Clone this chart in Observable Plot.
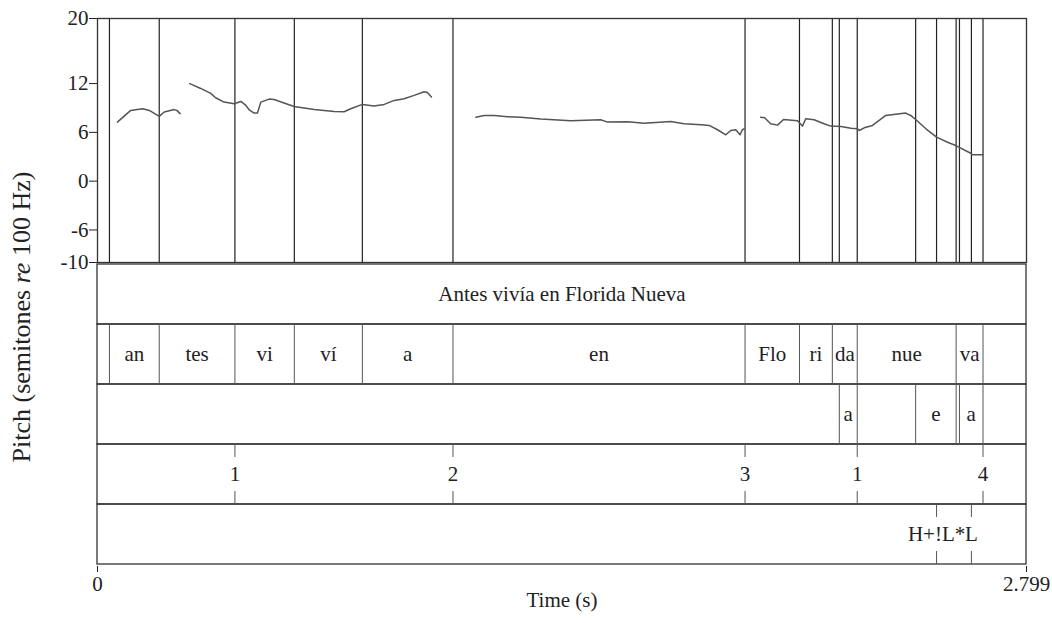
<!DOCTYPE html>
<html>
<head>
<meta charset="utf-8">
<script src="https://cdn.jsdelivr.net/npm/d3@7"></script>
<script src="https://cdn.jsdelivr.net/npm/@observablehq/plot@0.6"></script>
<style>
  body { margin: 0; background: #fff; }
  #wrap { position: relative; width: 1052px; height: 623px; font-family: "Liberation Serif", "Times New Roman", serif; }
  #wrap svg { display: block; }
  #ylab { position: absolute; left: 22px; top: 317px; transform: translate(-50%, -50%) rotate(-90deg); white-space: nowrap; font-size: 26px; color: #222; }
</style>
</head>
<body>
<div id="wrap"><div id="ylab">Pitch (semitones <i>re</i> 100 Hz)</div></div>
<script>
// ---- data ----
const timeMax = 2.799;
const pitchTicks = [20, 12, 6, 0, -6, -10];

// pitch contour (semitones re 100 Hz), four voiced stretches
const pitchSeg = [1,1,1,1,1,1,1,1,1,
  2,2,2,2,2,2,2,2,2,2,2,2,2,2,2,2,2,2,2,2,2,2,2,2,2,2,2,2,
  3,3,3,3,3,3,3,3,3,3,3,3,3,3,3,3,3,3,3,3,3,3,
  4,4,4,4,4,4,4,4,4,4,4,4,4,4,4,4,4,4,4,4,4,4,4,4,4,4,4,4];
const pitchTime = [0.060,0.100,0.136,0.156,0.186,0.201,0.231,0.239,0.249,
  0.278,0.311,0.341,0.356,0.381,0.412,0.432,0.447,0.457,0.472,0.482,0.492,0.517,0.532,0.592,0.653,0.713,0.743,0.763,0.798,0.833,0.864,0.894,0.924,0.954,0.984,0.994,1.006,
  1.140,1.165,1.195,1.235,1.275,1.336,1.426,1.516,1.537,1.597,1.647,1.727,1.767,1.818,1.843,1.868,1.893,1.908,1.923,1.936,1.943,1.948,
  1.998,2.010,2.028,2.049,2.067,2.109,2.124,2.134,2.159,2.189,2.209,2.240,2.270,2.290,2.295,2.310,2.335,2.375,2.435,2.450,2.466,2.496,2.528,2.561,2.586,2.631,2.636,2.667];
const pitchValue = [7.26,8.70,8.90,8.70,7.96,8.50,8.80,8.70,8.30,
  12.0,11.4,10.8,10.26,9.72,9.52,9.80,9.31,8.78,8.37,8.37,9.72,10.09,10.05,9.19,8.82,8.57,8.53,8.90,9.44,9.23,9.44,9.93,10.14,10.55,11.0,10.9,10.34,
  7.87,8.08,8.08,7.92,7.87,7.63,7.43,7.55,7.26,7.30,7.13,7.34,7.06,6.94,6.85,6.32,5.70,6.23,6.32,5.70,6.32,6.44,
  7.87,7.80,7.06,6.89,7.59,7.43,6.77,7.67,7.55,7.06,6.77,6.73,6.52,6.44,6.23,6.56,6.85,8.08,8.37,8.08,7.55,6.44,5.41,4.79,4.38,3.43,3.24,3.24];

// tiers
const tierNames = ["words", "syllables", "vowels", "breaks", "tones"];
const wordLabels = ["Antes vivía en Florida Nueva"];
const wordBounds = [0, 2.799];
const syllableLabels = ["", "an", "tes", "vi", "ví", "a", "en", "Flo", "ri", "da", "nue", "va", ""];
const syllableBounds = [0, 0.036, 0.186, 0.414, 0.593, 0.798, 1.071, 1.951, 2.115, 2.214, 2.289, 2.587, 2.668, 2.799];
const vowelLabels = ["", "a", "", "e", "", "a", ""];
const vowelBounds = [0, 2.235, 2.289, 2.465, 2.587, 2.597, 2.668, 2.799];
const breakTimes = [0.414, 1.071, 1.951, 2.289, 2.668];
const breakLabels = ["1", "2", "3", "1", "4"];
const toneTimes = [2.528, 2.633];
const toneLabels = ["H+!L*", "L"];

// ---- build tables ----
const pitch = pitchTime.map((t, i) => ({t, v: pitchValue[i], seg: pitchSeg[i]}));
function intervals(tier, labels, bounds) {
  return labels.map((label, i) => ({tier, label, start: bounds[i], end: bounds[i + 1]}));
}
const allIntervals = [
  ...intervals("words", wordLabels, wordBounds),
  ...intervals("syllables", syllableLabels, syllableBounds),
  ...intervals("vowels", vowelLabels, vowelBounds)
];
const boundaries = allIntervals.filter(d => d.start > 0).map(d => ({tier: d.tier, t: d.start}));
const points = [
  ...breakTimes.map((t, i) => ({tier: "breaks", t, label: breakLabels[i]})),
  ...toneTimes.map((t, i) => ({tier: "tones", t, label: toneLabels[i]}))
];
const lineTimes = Array.from(new Set([...boundaries.map(d => d.t), ...points.map(d => d.t)])).sort((a, b) => a - b);

const font = {fontFamily: "'Liberation Serif', 'Times New Roman', serif", fontSize: "21px", color: "#222", background: "transparent", overflow: "visible"};
const mL = 97, mR = 26;

const pitchPlot = Plot.plot({
  width: 1052, height: 262, marginTop: 18, marginBottom: 0, marginLeft: mL, marginRight: mR,
  style: font,
  x: {domain: [0, timeMax], axis: null},
  y: {domain: [-10, 20], ticks: pitchTicks, tickFormat: d => String(d), tickSize: 8, tickPadding: 1, label: null},
  marks: [
    Plot.ruleX(lineTimes, {stroke: "#222", strokeWidth: 1.2}),
    Plot.line(pitch, {x: "t", y: "v", z: "seg", stroke: "#555", strokeWidth: 1.5, curve: "linear"}),
    Plot.frame({stroke: "#333", strokeWidth: 1.3})
  ]
});

const tierPlot = Plot.plot({
  width: 1052, height: 361, marginTop: 0, marginBottom: 57, marginLeft: mL, marginRight: mR,
  style: font,
  x: {domain: [0, timeMax], ticks: [0, timeMax], tickFormat: d => d === 0 ? "0" : d3.format(".3f")(d), tickSize: 6, tickPadding: 4, label: null},
  y: {domain: tierNames, axis: null, padding: 0},
  marks: [
    Plot.barX(tierNames, {x1: 0, x2: timeMax, y: d => d, fill: "none", stroke: "#333", strokeWidth: 1.3}),
    Plot.tickX(boundaries, {x: "t", y: "tier", stroke: "#555", strokeWidth: 1}),
    Plot.tickX(points, {x: "t", y: "tier", stroke: "#555", strokeWidth: 1, insetBottom: 47}),
    Plot.tickX(points, {x: "t", y: "tier", stroke: "#555", strokeWidth: 1, insetTop: 47}),
    Plot.text(allIntervals.filter(d => d.label), {x: d => (d.start + d.end) / 2, y: "tier", text: "label", fill: "#222"}),
    Plot.text(points, {x: "t", y: "tier", text: "label", fill: "#222"}),
    Plot.text(["Time (s)"], {frameAnchor: "bottom", dy: 40, fill: "#222"})
  ]
});

const wrap = document.getElementById("wrap");
wrap.appendChild(pitchPlot);
wrap.appendChild(tierPlot);
</script>
</body>
</html>
